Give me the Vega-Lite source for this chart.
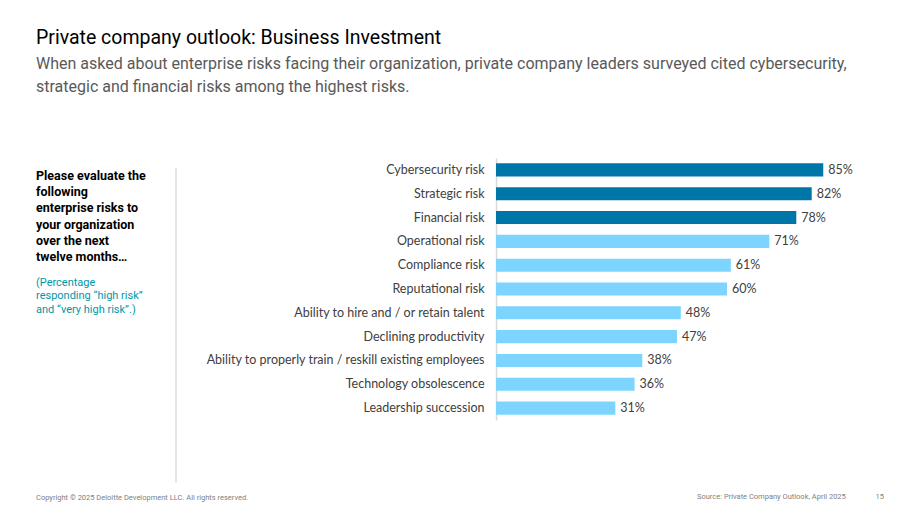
{
  "$schema": "https://vega.github.io/schema/vega-lite/v6.json",
  "background": "white",
  "padding": {"left": 36, "top": 27, "right": 10, "bottom": 5},
  "config": {"view": {"stroke": null}},
  "title": {
    "text": "Private company outlook: Business Investment",
    "subtitle": ["When asked about enterprise risks facing their organization, private company leaders surveyed cited cybersecurity,", "strategic and financial risks among the highest risks."],
    "anchor": "start",
    "frame": "bounds",
    "font": "Roboto",
    "fontSize": 19.5,
    "fontWeight": "normal",
    "color": "#000000",
    "subtitleFont": "Roboto",
    "subtitleFontSize": 16,
    "subtitleColor": "#595959",
    "subtitleLineHeight": 23,
    "subtitlePadding": 8,
    "offset": 62
  },
  "bounds": "flush",
  "spacing": 320,
  "hconcat": [
    {
      "width": 140,
      "height": 325,
      "title": {
        "text": "Copyright © 2025 Deloitte Development LLC. All rights reserved.",
        "orient": "bottom",
        "anchor": "start",
        "frame": "group",
        "font": "Roboto",
        "fontSize": 7.5,
        "fontWeight": "normal",
        "color": "#7f7f7f",
        "offset": 10
      },
      "data": {"values": [
        {"block": "question", "text": "Please evaluate the\nfollowing\nenterprise risks to\nyour organization\nover the next\ntwelve months…"},
        {"block": "note", "text": "(Percentage\nresponding “high risk”\nand “very high risk”.)"}
      ]},
      "encoding": {
        "y": {"field": "block", "type": "nominal", "bandPosition": 0,
              "scale": {"domain": ["question", "note"], "paddingInner": 0, "paddingOuter": 0.5187, "align": 0.09},
              "axis": null}
      },
      "layer": [
        {
          "transform": [{"filter": "datum.block === 'question'"}],
          "mark": {"type": "rule", "color": "#e6e6e6", "strokeWidth": 2},
          "encoding": {
            "x": {"value": "width"},
            "y2": {"value": "height"}
          }
        },
        {
          "transform": [{"filter": "datum.block === 'question'"}],
          "mark": {"type": "text", "align": "left", "baseline": "top", "lineBreak": "\n", "dy": 2, "font": "Roboto", "fontSize": 12.5, "fontWeight": "bold", "lineHeight": 16.2, "color": "#000000"},
          "encoding": {
            "x": {"value": 0},
            "text": {"field": "text", "type": "nominal"}
          }
        },
        {
          "transform": [{"filter": "datum.block === 'note'"}],
          "mark": {"type": "text", "align": "left", "baseline": "top", "lineBreak": "\n", "dy": 2, "font": "Roboto", "fontSize": 11, "fontWeight": "normal", "lineHeight": 13.5, "color": "#0097A9"},
          "encoding": {
            "x": {"value": 0},
            "text": {"field": "text", "type": "nominal"}
          }
        }
      ]
    },
    {
      "width": 385,
      "height": 262,
      "title": {
        "text": "Source: Private Company Outlook, April 2025\u00a0\u00a0\u00a0\u00a0\u00a0\u00a0\u00a0\u00a0\u00a0\u00a0\u00a0\u00a0\u00a0\u00a0\u00a0\u00a015",
        "orient": "bottom",
        "anchor": "end",
        "frame": "group",
        "font": "Roboto",
        "fontSize": 7.5,
        "fontWeight": "normal",
        "color": "#7f7f7f",
        "dx": 3,
        "offset": 73
      },
      "data": {"values": [
        {"risk": "Cybersecurity risk", "share": 0.85, "group": "Highest"},
        {"risk": "Strategic risk", "share": 0.82, "group": "Highest"},
        {"risk": "Financial risk", "share": 0.78, "group": "Highest"},
        {"risk": "Operational risk", "share": 0.71, "group": "Other"},
        {"risk": "Compliance risk", "share": 0.61, "group": "Other"},
        {"risk": "Reputational risk", "share": 0.60, "group": "Other"},
        {"risk": "Ability to hire and / or retain talent", "share": 0.48, "group": "Other"},
        {"risk": "Declining productivity", "share": 0.47, "group": "Other"},
        {"risk": "Ability to properly train / reskill existing employees", "share": 0.38, "group": "Other"},
        {"risk": "Technology obsolescence", "share": 0.36, "group": "Other"},
        {"risk": "Leadership succession", "share": 0.31, "group": "Other"}
      ]},
      "encoding": {
        "y": {"field": "risk", "type": "nominal", "sort": null,
              "scale": {"paddingInner": 0.45, "paddingOuter": 0.225},
              "axis": {"title": null, "ticks": false, "labelPadding": 12, "labelFont": "Lato", "labelFontSize": 12.5, "labelColor": "#404040", "domainColor": "#d9d9d9", "domainWidth": 1.5, "labelLimit": 400}},
        "x": {"field": "share", "type": "quantitative", "scale": {"domain": [0, 1]}, "axis": null}
      },
      "layer": [
        {
          "mark": {"type": "bar"},
          "encoding": {
            "color": {"field": "group", "type": "nominal", "scale": {"domain": ["Highest", "Other"], "range": ["#0076A8", "#7DD5FF"]}, "legend": null}
          }
        },
        {
          "mark": {"type": "text", "align": "left", "baseline": "middle", "dx": 5, "font": "Lato", "fontSize": 12.5, "color": "#404040"},
          "encoding": {"text": {"field": "share", "type": "quantitative", "format": ".0%"}}
        }
      ]
    }
  ]
}
